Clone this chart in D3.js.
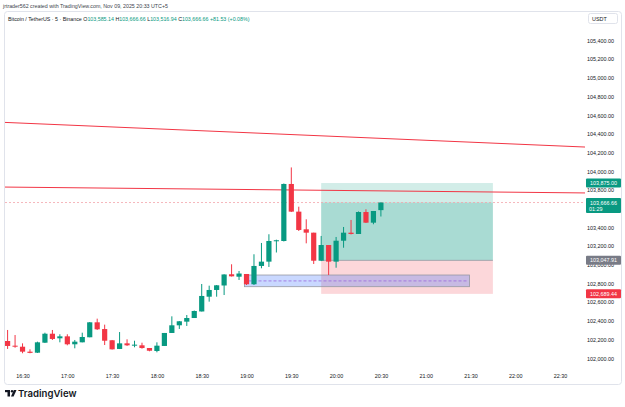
<html>
<head>
    <title>BTCUSDT 5m</title>
    <script src="https://d3js.org/d3.v7.min.js"></script>
</head>
<body>
<div class="chart-wrapper"></div>
</body>
<script>
    // 5분봉 데이터 (16:20 ~ 20:30)
    var startTime = '2025-11-09 16:20';
    var opens  = [102185,102135,102124,102071,102060,102167,102263,102214,102235,102150,102171,102225,102385,102313,102193,102100,102160,102135,102139,102110,102078,102132,102271,102353,102392,102431,102501,102659,102731,102779,102899,102873,102902,102792,102988,103034,103252,103255,103865,103569,103380,103344,103044,103212,103034,103258,103344,103330,103565,103451,103585.14];
    var highs  = [102303,102249,102160,102096,102178,102274,102303,102257,102257,102196,102274,102388,102424,102360,102196,102281,102203,102188,102167,102110,102171,102271,102449,102399,102463,102511,102795,102777,102784,102899,103006,102934,102902,103113,103234,103327,103269,103870,104042,103622,103487,103344,103309,103212,103298,103405,103480,103571,103594,103576,103666.66];
    var lows   = [102100,102113,102054,102054,102057,102164,102196,102171,102139,102107,102171,102225,102303,102142,102094,102099,102132,102118,102103,102075,102064,102132,102271,102314,102346,102431,102501,102606,102659,102677,102875,102838,102784,102784,102963,102977,103132,103250,103565,103362,103230,103009,103040,102891,102969,103183,103325,103330,103448,103434,103516.94];
    var closes = [102132,102124,102071,102058,102171,102263,102207,102235,102150,102178,102228,102385,102310,102188,102096,102160,102139,102146,102110,102081,102135,102271,102353,102396,102431,102506,102667,102731,102781,102897,102877,102907,102792,102988,103034,103255,103263,103865,103569,103373,103344,103044,103212,103034,103258,103344,103330,103565,103451,103576,103666.66];

    var priceTicks = [102000,102200,102400,102600,102800,103000,103200,103400,103600,103800,104000,104200,104400,104600,104800,105000,105200,105400];
    var timeTicks = ['16:30','17:00','17:30','18:00','18:30','19:00','19:30','20:00','20:30','21:00','21:30','22:00','22:30'];

    // 추세선 (시작시각, 가격, 끝시각, 가격)
    var trendStart = ['16:12', '16:12'];
    var trendEnd   = ['22:47', '22:47'];
    var trendP1    = [104528, 103833];
    var trendP2    = [104260, 103769];

    // 롱 포지션
    var posStart = '19:50', posEnd = '21:45';
    var posEntry = 103047.91, posTarget = 103875.00, posStop = 102689.44;
    var lastPrice = 103666.66, countdown = '01:29';

    // 파란 박스
    var zoneStart = '19:00', zoneEnd = '21:30';
    var zoneTop = 102891, zoneBottom = 102766, zoneMid = 102828;

    var UP = '#089981', DOWN = '#f23645';
    var W = 625, H = 407;
    var parse = d3.timeParse('%Y-%m-%d %H:%M');
    function at(hm) { return parse('2025-11-09 ' + hm); }
    var t0 = parse(startTime);
    var candles = opens.map(function (o, i) {
        return { t: d3.timeMinute.offset(t0, 5 * i), o: o, h: highs[i], l: lows[i], c: closes[i] };
    });

    var svg = d3.select('.chart-wrapper').append('svg')
        .attr('width', W).attr('height', H);

    svg.append('rect').attr('width', W).attr('height', H).attr('fill', '#ffffff');

    var x = d3.scaleTime()
        .domain([t0, at('20:30')])
        .range([7.6, 380.9]);
    var y = d3.scaleLinear()
        .domain([102000, 105400])
        .range([358.3, 40.5]);

    var fmt = d3.format(',.2f');

    // 헤더
    svg.append('text').attr('x', 3).attr('y', 8)
        .attr('class', 'hdr').attr('fill', '#3b3f4a')
        .text('jrtrader562 created with TradingView.com, Nov 09, 2025 20:33 UTC+5');

    svg.append('rect').attr('x', 4.5).attr('y', 11.5).attr('width', 617).attr('height', 373)
        .attr('rx', 3).attr('fill', 'none').attr('stroke', '#e0e3eb');

    var legend = svg.append('text').attr('x', 8).attr('y', 21).attr('class', 'hdr').attr('fill', '#131722');
    legend.append('tspan').text('Bitcoin / TetherUS · 5 · Binance  ');
    var ohlc = [['O', opens[50]], ['H', highs[50]], ['L', lows[50]], ['C', closes[50]]];
    ohlc.forEach(function (d) {
        legend.append('tspan').text(d[0]);
        legend.append('tspan').attr('fill', UP).text(fmt(d[1]) + '  ');
    });
    legend.append('tspan').attr('fill', UP).text('+81.53 (+0.08%)');

    // 차트 영역 클립
    svg.append('clipPath').attr('id', 'plot')
        .append('rect').attr('x', 5).attr('y', 12).attr('width', 580).attr('height', 355);
    var plot = svg.append('g').attr('clip-path', 'url(#plot)');

    // 포지션 박스
    var px0 = x(at(posStart)), px1 = x(at(posEnd));
    plot.append('rect').attr('x', px0).attr('width', px1 - px0)
        .attr('y', y(posTarget)).attr('height', y(lastPrice) - y(posTarget))
        .attr('fill', 'rgba(8,153,129,0.18)');
    plot.append('rect').attr('x', px0).attr('width', px1 - px0)
        .attr('y', y(lastPrice)).attr('height', y(posEntry) - y(lastPrice))
        .attr('fill', 'rgba(8,153,129,0.35)');
    plot.append('rect').attr('x', px0).attr('width', px1 - px0)
        .attr('y', y(posEntry)).attr('height', y(posStop) - y(posEntry))
        .attr('fill', 'rgba(242,54,69,0.2)');
    plot.append('line').attr('x1', px0).attr('x2', px1)
        .attr('y1', y(posEntry)).attr('y2', y(posEntry))
        .attr('stroke', '#9598a1').attr('stroke-width', 0.8);

    // 파란 박스
    var zx0 = x(at(zoneStart)) - 2, zx1 = x(at(zoneEnd)) - 1;
    plot.append('rect').attr('x', zx0).attr('width', zx1 - zx0)
        .attr('y', y(zoneTop)).attr('height', y(zoneBottom) - y(zoneTop))
        .attr('fill', 'rgba(41,98,255,0.25)')
        .attr('stroke', '#9598a1').attr('stroke-width', 0.8);
    plot.append('line').attr('x1', zx0 + 4).attr('x2', zx1 - 2)
        .attr('y1', y(zoneMid)).attr('y2', y(zoneMid))
        .attr('stroke', '#9c6ade').attr('stroke-dasharray', '3,2').attr('stroke-width', 0.8);

    // 현재가 점선
    plot.append('line').attr('x1', 5).attr('x2', 585)
        .attr('y1', y(lastPrice)).attr('y2', y(lastPrice))
        .attr('stroke', '#f2a5ab').attr('stroke-dasharray', '2,2').attr('stroke-width', 0.8);

    // 추세선
    trendP1.forEach(function (p, i) {
        plot.append('line')
            .attr('x1', x(at(trendStart[i]))).attr('y1', y(p))
            .attr('x2', x(at(trendEnd[i]))).attr('y2', y(trendP2[i]))
            .attr('stroke', DOWN).attr('stroke-width', 1);
    });

    // 캔들
    var cg = plot.selectAll('g.candle').data(candles).enter().append('g').attr('class', 'candle');
    function col(d) { return d.c >= d.o ? UP : DOWN; }
    cg.append('line')
        .attr('x1', function (d) { return x(d.t); })
        .attr('x2', function (d) { return x(d.t); })
        .attr('y1', function (d) { return y(d.h); })
        .attr('y2', function (d) { return y(d.l); })
        .attr('stroke', col).attr('stroke-width', 1);
    cg.append('rect')
        .attr('x', function (d) { return x(d.t) - 2.6; })
        .attr('width', 5.2)
        .attr('y', function (d) { return y(Math.max(d.o, d.c)); })
        .attr('height', function (d) { return Math.max(0.8, Math.abs(y(d.o) - y(d.c))); })
        .attr('fill', col);

    // 가격축 (현재가 태그에 가려지는 눈금은 숨김)
    var yAxis = svg.append('g').attr('class', 'axis').attr('transform', 'translate(617,0)')
        .call(d3.axisLeft(y).tickValues(priceTicks).tickSize(0).tickFormat(fmt));
    yAxis.select('.domain').remove();
    yAxis.selectAll('.tick')
        .filter(function (d) { return y(d) > y(lastPrice) - 4 && y(d) < y(lastPrice) + 11; })
        .remove();

    svg.append('rect').attr('x', 588.5).attr('y', 13.5).attr('width', 29).attr('height', 10)
        .attr('rx', 2).attr('fill', '#fff').attr('stroke', '#e0e3eb');
    svg.append('text').attr('x', 592).attr('y', 20.6).attr('class', 'ax').text('USDT');

    function priceTag(p, bg, extra) {
        var yy = y(p);
        var h = extra ? 15 : 9;
        svg.append('rect').attr('x', 586).attr('y', yy - 4.5).attr('width', 35).attr('height', h)
            .attr('rx', 1).attr('fill', bg);
        svg.append('text').attr('x', 603.5).attr('y', yy + 2).attr('class', 'ax tag')
            .text(fmt(p));
        if (extra) {
            svg.append('text').attr('x', 589).attr('y', yy + 8.6).attr('class', 'ax')
                .style('fill', '#ffffff').style('text-anchor', 'start').text(extra);
        }
    }
    priceTag(posTarget, UP);
    priceTag(lastPrice, UP, countdown);
    priceTag(posEntry, '#787b86');
    priceTag(posStop, DOWN);

    // 시간축
    var xAxis = svg.append('g').attr('class', 'axis').attr('transform', 'translate(0,371)')
        .call(d3.axisBottom(x).tickValues(timeTicks.map(at)).tickSize(0).tickFormat(d3.timeFormat('%H:%M')));
    xAxis.select('.domain').remove();

    // 로고
    var logo = svg.append('g').attr('transform', 'translate(5,390)');
    logo.append('rect').attr('x', 0).attr('y', 0).attr('width', 5).attr('height', 2.2).attr('fill', '#131722');
    logo.append('rect').attr('x', 2.5).attr('y', 0).attr('width', 2.5).attr('height', 6.5).attr('fill', '#131722');
    logo.append('circle').attr('cx', 7).attr('cy', 1.2).attr('r', 1.2).attr('fill', '#131722');
    logo.append('path').attr('d', 'M8.8,0 L11.5,0 L8.6,6.5 L6,6.5 Z').attr('fill', '#131722');
    svg.append('text').attr('x', 18).attr('y', 397).attr('class', 'logo').text('TradingView');
</script>
<style>
    body { margin: 0; background: #ffffff; }
    text { font-family: 'Liberation Sans', Arial, sans-serif; }
    .hdr { font-size: 5.3px; }
    .axis text, .ax { font-size: 5.4px; fill: #131722; }
    .axis text { font-family: 'Liberation Sans', Arial, sans-serif; }
    .tag { fill: #ffffff; text-anchor: middle; }
    .logo { font-size: 9.6px; font-weight: 600; fill: #131722; font-family: Inter, 'Liberation Sans', sans-serif; }
</style>
</html>
